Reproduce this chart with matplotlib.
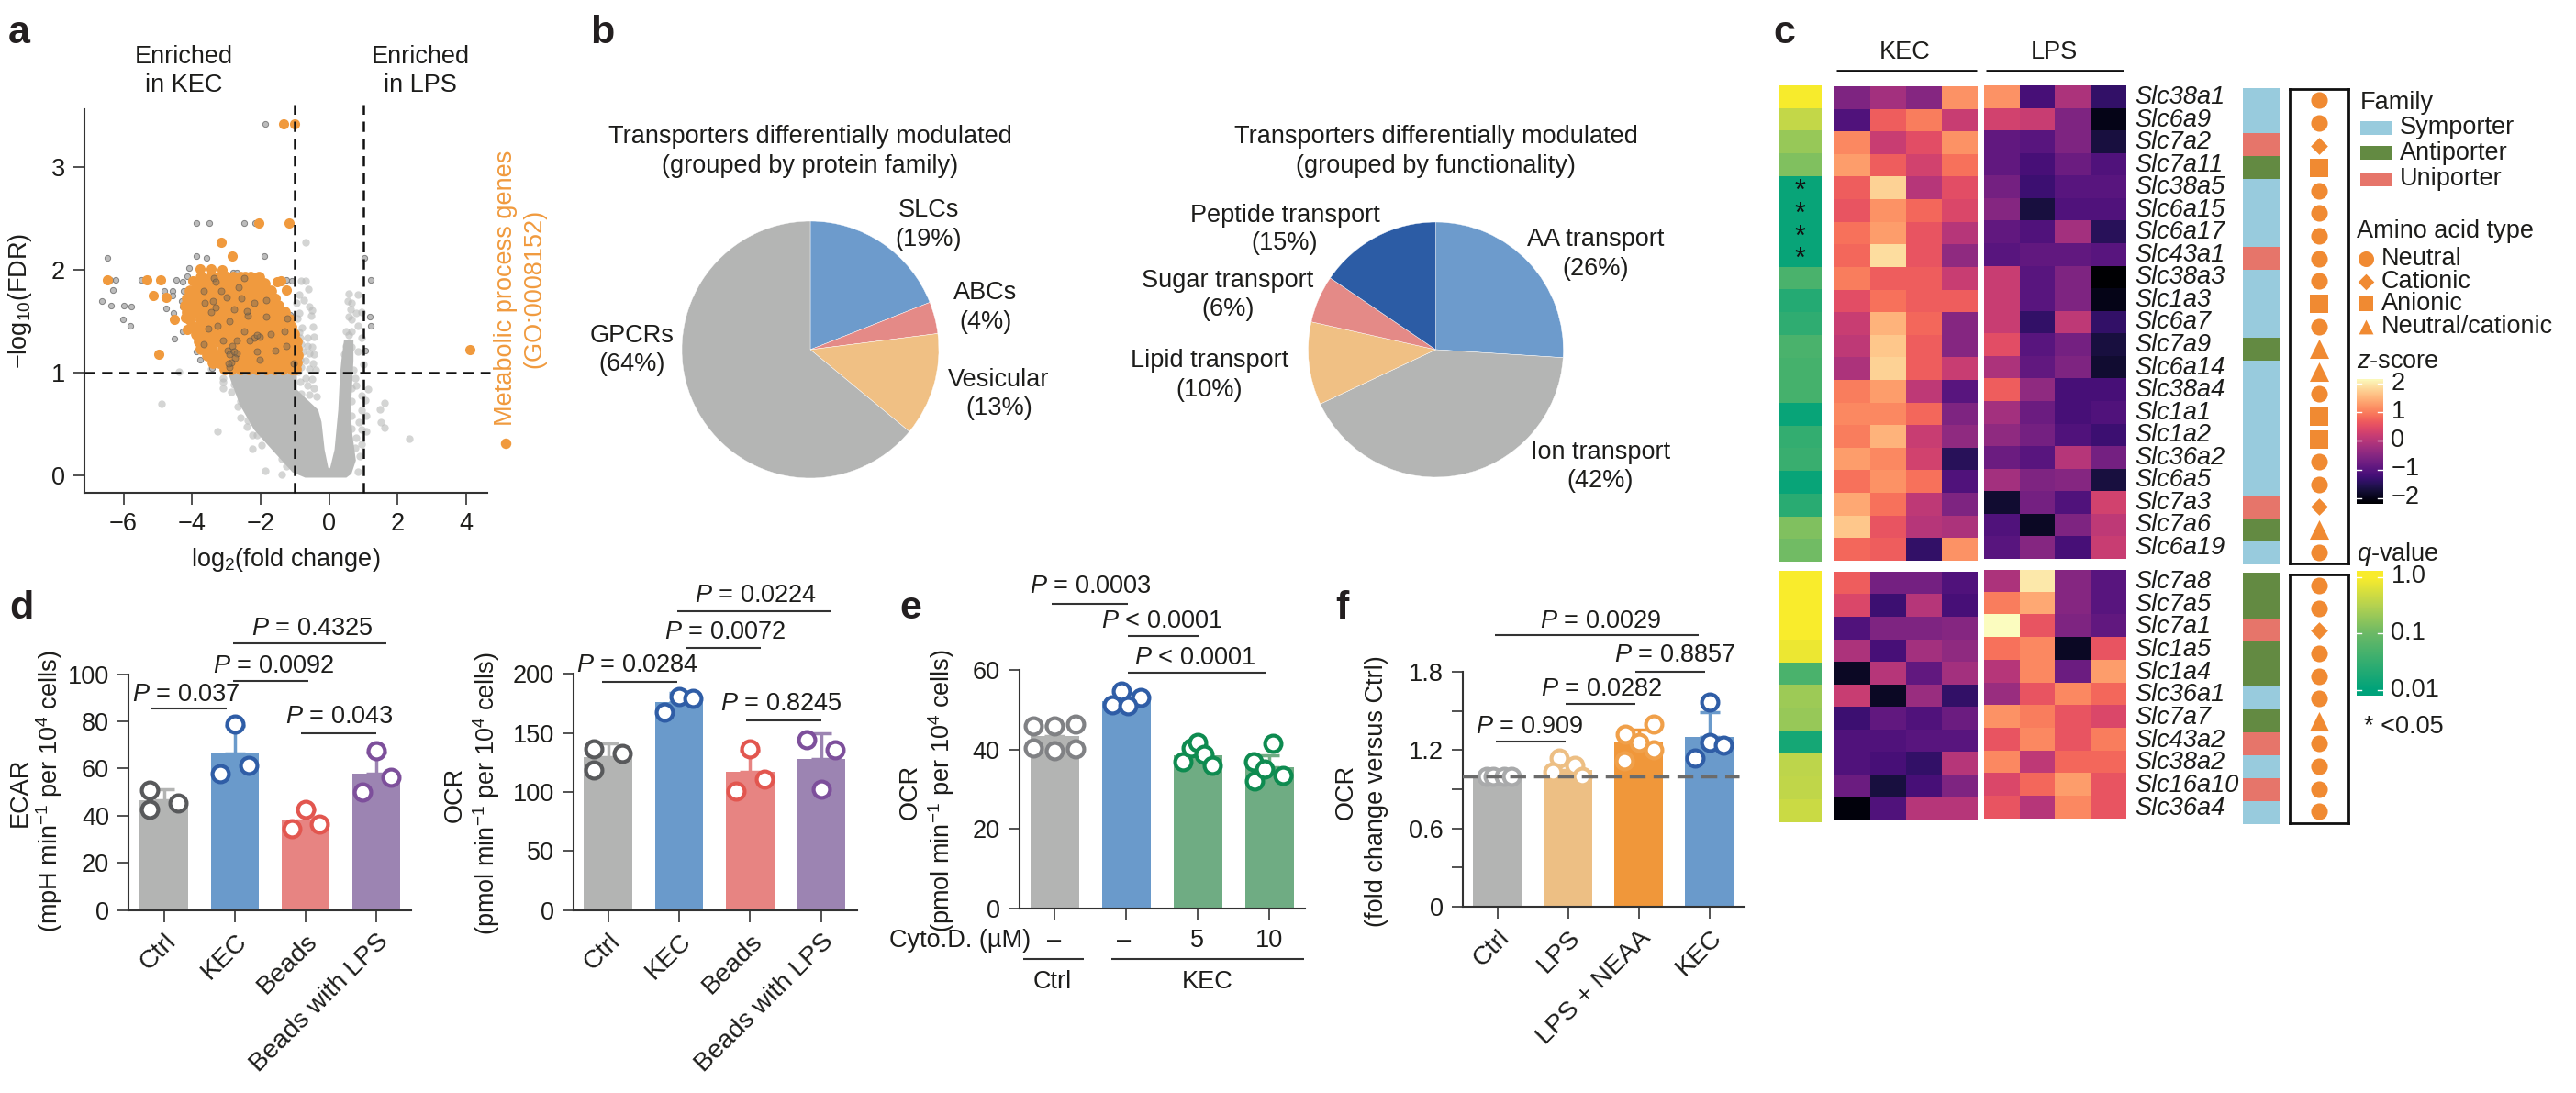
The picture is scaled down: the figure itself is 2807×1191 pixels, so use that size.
import numpy as np
import matplotlib
matplotlib.use('Agg')
import matplotlib.pyplot as plt
from matplotlib.colors import ListedColormap, LinearSegmentedColormap, Normalize, LogNorm
from matplotlib.patches import Rectangle

plt.rcParams['font.family'] = ['Liberation Sans', 'DejaVu Sans']
plt.rcParams['mathtext.fontset'] = 'custom'
plt.rcParams['mathtext.rm'] = 'Liberation Sans'
plt.rcParams['mathtext.it'] = 'Liberation Sans:italic'
plt.rcParams['mathtext.bf'] = 'Liberation Sans:bold'
plt.rcParams['mathtext.default'] = 'regular'

W, H = 2807, 1191
FS = 19.5
INK = '#1d1d1b'

# ---------- panel a : volcano ----------
gray_outline_x = [-0.69, -1.04, -1.53, -2.15, -2.56, -2.87, -1.0, -1.0, -0.69, -0.37, -0.28, -0.19, -0.08, 0.0, 0.08, 0.21, 0.32, 0.37, 0.41, 0.48, 0.65, 0.65, 0.61, 0.57, 0.62, 0.72, 0.6, 0.48]
gray_outline_y = [0.0, 0.05, 0.23, 0.46, 0.70, 0.98, 0.98, 0.83, 0.73, 0.63, 0.52, 0.25, 0.07, 0.04, 0.07, 0.25, 0.64, 0.98, 1.12, 1.3, 1.3, 1.12, 0.88, 0.61, 0.40, 0.15, 0.03, 0.0]
light_x = [-0.7, -0.81, -0.68, -0.62, -0.88, -0.57, -0.75, -0.95, -0.5, -0.88, -0.54, -0.93, -0.48, -0.79, -0.88, -0.84, -0.63, -0.46, -0.81, -0.63, -0.5, -0.77, -0.59, -0.46, -0.86, -0.68, -0.48, -0.81, -0.59, -0.39, -0.9, -0.68, -0.5, -0.86, -0.63, -0.46, -0.81, -0.59, -0.37,
           0.57, 0.84, 0.53, 0.66, 0.62, 0.79, 0.95, 0.57, 0.66, 0.84, 0.5, 0.66, 0.57, 0.93, 0.5, 0.66, 0.44, 0.84, 0.48, 1.0, 0.71, 0.75, 0.79, 0.66, 1.12, 0.95, 1.06, 0.64, 1.6, 1.48, 0.93, 1.09, 0.66, 0.86, 1.51, 1.6, 0.66, 0.93, 1.07, 2.33, 0.79, 0.93, 0.75, 0.88, 0.84,
           -3.27, -1.88, -1.38, -2.24, -1.97, -2.24, -2.11, -2.39, -2.38, -2.58, -2.67, -2.6, -2.87, -3.11, -3.11, -3.09, -2.78, -3.45, -1.39, -1.26, -4.9, -4.38]
light_y = [2.27, 1.90, 1.90, 1.82, 1.76, 1.65, 1.71, 1.68, 1.61, 1.58, 1.56, 1.53, 1.45, 1.44, 1.40, 1.34, 1.34, 1.35, 1.28, 1.26, 1.25, 1.21, 1.19, 1.18, 1.13, 1.12, 1.09, 1.06, 1.04, 1.03, 1.01, 0.95, 0.94, 0.91, 0.88, 0.85, 0.80, 0.79, 0.77,
           1.77, 1.76, 1.70, 1.68, 1.62, 1.58, 1.59, 1.55, 1.52, 1.46, 1.41, 1.41, 1.37, 1.34, 1.26, 1.25, 1.18, 1.21, 1.10, 1.08, 1.03, 0.95, 0.88, 0.85, 0.84, 0.78, 0.74, 0.73, 0.71, 0.65, 0.64, 0.58, 0.58, 0.52, 0.52, 0.47, 0.46, 0.45, 0.43, 0.36, 0.37, 0.31, 0.27, 0.19, 0.04,
           0.43, 0.05, 0.01, 0.26, 0.30, 0.40, 0.40, 0.48, 0.54, 0.57, 0.67, 0.73, 0.82, 0.85, 0.91, 0.95, 0.89, 1.04, 0.16, 0.09, 0.70, 1.01]
edge_x = [-1.87, -3.88, -3.51, -2.48, -2.15, -3.87, -3.58, -1.9, -6.48, 1.02, 1.21, -6.22, -6.38, -6.32, -6.62, -6.37, -5.99, -5.78, -6.02, -5.79, -5.48,
          -4.52, -4.77, -4.58, -4.8, -4.46, -4.28, -4.09, -4.14, -4.24, -4.57, -4.31, -4.27, -4.55, -4.28, -3.87, -3.78, -3.87, 1.19, 1.22, 1.04, -2.81, -2.69, -1.25, -1.08, -3.43, -1.3, -1.22, -1.15]
edge_y = [3.42, 2.46, 2.46, 2.46, 2.46, 2.14, 2.12, 2.14, 2.12, 2.12, 1.91, 1.91, 1.91, 1.81, 1.70, 1.66, 1.66, 1.65, 1.52, 1.46, 1.91,
          1.33, 1.63, 1.80, 1.80, 1.91, 1.89, 2.02, 1.94, 1.80, 1.75, 1.70, 1.65, 1.58, 1.41, 1.21, 1.13, 1.36, 1.55, 1.46, 1.22, 1.98, 1.98, 1.91, 1.90, 1.05, 1.55, 1.53, 1.57]
orange_x = [-1.32, -1.02, -2.05, -1.17, -3.14, -2.82, -3.76, -3.45, -3.13, -6.46, -5.32, -4.91, -5.13, -4.77, -4.52, -4.2, -4.97, 4.11, -1.53, -1.4, -1.24, -1.57, -4.14, -3.97, -1.44, -1.57]
orange_y = [3.42, 3.42, 2.46, 2.46, 2.27, 2.14, 2.01, 2.01, 2.0, 1.91, 1.91, 1.91, 1.75, 1.74, 1.52, 1.54, 1.18, 1.23, 1.89, 1.9, 1.81, 1.73, 1.42, 1.9, 1.58, 1.56]
orange_rows = [
    (1.93, [-3.75, -3.45, -3.2, -3.0, -2.8, -2.6, -2.45, -2.3, -2.05]),
    (1.87, [-3.85, -3.7, -3.55, -3.3, -3.05, -2.85, -2.6, -2.4, -2.2, -2.0, -1.9]),
    (1.80, [-4.05, -3.8, -3.6, -3.35, -3.1, -2.9, -2.65, -2.45, -2.25, -2.05, -1.85, -1.7]),
    (1.73, [-4.15, -3.85, -3.65, -3.4, -3.15, -2.95, -2.7, -2.5, -2.25, -2.0, -1.8, -1.68]),
    (1.66, [-4.2, -3.95, -3.7, -3.45, -3.2, -2.95, -2.7, -2.45, -2.2, -2.0, -1.75, -1.5]),
    (1.59, [-4.15, -3.9, -3.6, -3.3, -3.05, -2.8, -2.6, -2.35, -2.15, -1.9, -1.7, -1.5, -1.3]),
    (1.52, [-4.05, -3.75, -3.45, -3.2, -3.0, -2.75, -2.5, -2.25, -2.0, -1.8, -1.55, -1.3, -1.18]),
    (1.45, [-3.98, -3.7, -3.4, -3.15, -2.9, -2.65, -2.4, -2.2, -1.95, -1.7, -1.45, -1.25, -1.13]),
    (1.38, [-3.88, -3.6, -3.3, -3.1, -2.85, -2.6, -2.35, -2.1, -1.85, -1.6, -1.4, -1.15, -1.05]),
    (1.31, [-3.8, -3.5, -3.2, -2.95, -2.7, -2.45, -2.2, -1.95, -1.7, -1.5, -1.25, -1.05, -0.97]),
    (1.24, [-3.75, -3.45, -3.1, -2.85, -2.6, -2.35, -2.1, -1.85, -1.6, -1.35, -1.15, -0.95]),
    (1.17, [-3.55, -3.25, -3.0, -2.75, -2.5, -2.25, -2.0, -1.75, -1.5, -1.3, -1.1, -0.92]),
    (1.10, [-3.4, -3.2, -2.95, -2.7, -2.45, -2.2, -1.95, -1.7, -1.45, -1.2, -0.95]),
    (1.04, [-3.05, -2.85, -2.6, -2.35, -2.1, -1.85, -1.6, -1.35, -1.1, -0.98]),
]
dark_x = [-3.36, -3.3, -2.47, -3.63, -3.32, -2.78, -2.2, -2.96, -2.9, -2.83, -2.78, -2.69, -2.75, -2.2, -2.02, -2.1, -2.33, -1.57, -2.91, -2.87, -2.95, -1.22, -3.54, -2.69,
          -3.14, -3.0, -2.55, -1.84, -3.67, -3.45, -2.47, -3.67, -2.11, -2.02, -1.31, -1.26, -1.04, -2.38, -1.84, -3.09, -3.27, -2.65, -3.4, -2.4, -2.9, -1.7]
dark_y = [1.92, 1.89, 1.92, 1.68, 1.64, 1.62, 1.68, 1.22, 1.18, 1.26, 1.21, 1.19, 1.15, 1.34, 1.35, 1.37, 1.32, 1.22, 1.06, 1.10, 1.09, 1.53, 1.43, 1.32,
          1.80, 1.74, 1.73, 1.71, 1.80, 1.59, 1.41, 1.28, 1.21, 1.13, 1.41, 1.26, 1.09, 1.56, 1.55, 1.32, 1.46, 1.83, 1.70, 1.6, 1.5, 1.38]
fold_lines = [-1, 1]
fdr_line = 1

# ---------- panel b : pies ----------
family_labels = ['SLCs\n(19%)', 'ABCs\n(4%)', 'Vesicular\n(13%)', 'GPCRs\n(64%)']
family_values = [19, 4, 13, 64]
family_colors = ['#6D9BCC', '#E48A87', '#F0C084', '#B4B5B4']
function_labels = ['AA transport\n(26%)', 'Ion transport\n(42%)', 'Lipid transport\n(10%)', 'Sugar transport\n(6%)', 'Peptide transport\n(15%)']
function_values = [26, 42, 10.5, 6, 15.5]
function_colors = ['#6D9BCC', '#B4B5B4', '#F0C084', '#E48A87', '#2C5CA5']

# ---------- panel c : heatmaps ----------
genes_top = ['Slc38a1', 'Slc6a9', 'Slc7a2', 'Slc7a11', 'Slc38a5', 'Slc6a15', 'Slc6a17', 'Slc43a1', 'Slc38a3', 'Slc1a3', 'Slc6a7', 'Slc7a9', 'Slc6a14', 'Slc38a4', 'Slc1a1', 'Slc1a2', 'Slc36a2', 'Slc6a5', 'Slc7a3', 'Slc7a6', 'Slc6a19']
kec_top = [[-0.6, -0.2, -0.5, 1.2], [-1.1, 0.7, 1.0, 0.2], [1.1, 0.2, 0.5, 1.2], [1.3, 0.7, 0.3, 0.9], [0.7, 1.8, 0.0, 0.5], [0.6, 1.2, 0.8, 0.4], [0.9, 1.3, 0.6, 0.0],
           [0.8, 1.9, 0.6, -0.4], [1.0, 0.7, 0.7, 0.2], [0.5, 0.9, 0.7, 0.7], [0.2, 1.5, 0.8, -0.5], [0.1, 1.7, 0.7, -0.5], [-0.1, 1.8, 0.7, 0.2], [1.0, 1.3, 0.1, -1.0],
           [1.1, 1.1, 0.8, -0.6], [1.0, 1.5, 0.2, -0.4], [1.3, 1.1, 0.3, -1.5], [0.9, 1.2, 0.9, -1.1], [1.4, 0.9, 0.1, -0.6], [1.7, 0.6, 0.0, -0.1], [0.8, 0.7, -1.4, 1.2]]
lps_top = [[1.2, -1.2, -0.1, -1.4], [0.3, 0.2, -0.6, -2.0], [-0.9, -1.0, -0.6, -1.7], [-0.9, -1.2, -0.8, -1.1], [-0.7, -1.3, -1.0, -1.0], [-0.5, -1.7, -1.1, -1.1], [-0.9, -1.1, -0.2, -1.5],
           [-1.0, -0.9, -0.9, -1.0], [0.2, -1.0, -0.6, -2.2], [0.2, -1.0, -0.6, -2.0], [0.2, -1.4, 0.1, -1.4], [0.5, -1.0, -0.7, -1.7], [-0.1, -0.9, -0.6, -1.8], [0.7, -0.4, -1.2, -1.2],
           [-0.2, -0.8, -1.2, -1.1], [-0.4, -0.7, -1.1, -1.3], [-0.8, -1.0, 0.0, -0.7], [-0.2, -0.6, -0.5, -1.7], [-1.8, -0.7, -1.1, 0.3], [-1.1, -1.9, -0.6, 0.1], [-1.0, -0.5, -1.2, 0.2]]
qval_top = [0.97, 0.4, 0.2, 0.14, 0.012, 0.012, 0.012, 0.012, 0.05, 0.022, 0.028, 0.05, 0.045, 0.045, 0.012, 0.03, 0.035, 0.012, 0.025, 0.14, 0.11]
family_top = ['S', 'S', 'U', 'A', 'S', 'S', 'S', 'U', 'S', 'S', 'S', 'A', 'S', 'S', 'S', 'S', 'S', 'S', 'U', 'A', 'S']
amino_top = ['o', 'o', 'D', 's', 'o', 'o', 'o', 'o', 'o', 's', 'o', '^', '^', 'o', 's', 's', 'o', 'o', 'D', '^', 'o']
genes_bot = ['Slc7a8', 'Slc7a5', 'Slc7a1', 'Slc1a5', 'Slc1a4', 'Slc36a1', 'Slc7a7', 'Slc43a2', 'Slc38a2', 'Slc16a10', 'Slc36a4']
kec_bot = [[0.7, -0.7, -0.7, -1.1], [0.4, -1.3, 0.0, -1.2], [-1.1, -0.6, -0.6, -0.5], [-0.1, -1.2, -0.2, -0.4], [-1.9, 0.0, -0.9, -0.2], [0.2, -1.9, -0.3, -1.4],
           [-1.3, -0.9, -1.1, -0.8], [-1.1, -1.1, -1.0, -1.0], [-1.1, -1.2, -1.4, 0.0], [-0.8, -1.7, -1.2, -0.6], [-2.1, -1.1, 0.0, 0.0]]
lps_bot = [[-0.1, 2.0, -0.5, -1.0], [1.0, 1.4, -0.5, -1.0], [2.3, 0.6, -0.6, -0.9], [0.9, 1.1, -1.9, 0.6], [0.0, 1.1, -0.8, 1.3], [-0.3, 0.6, 1.1, 0.8],
           [1.2, 1.0, 0.6, 0.4], [0.6, 1.1, 0.6, 1.0], [1.1, 0.1, 0.8, 0.8], [0.4, 0.8, 1.3, 0.6], [0.6, 0.0, 1.1, 0.6]]
qval_bot = [1.0, 1.0, 1.0, 0.8, 0.05, 0.22, 0.2, 0.016, 0.36, 0.38, 0.45]
family_bot = ['A', 'A', 'U', 'A', 'A', 'S', 'A', 'U', 'S', 'U', 'S']
amino_bot = ['o', 'o', 'D', 'o', 'o', 'o', '^', 'o', 'o', 'o', 'o']
family_names = ['Symporter', 'Antiporter', 'Uniporter']
family_code = {'S': 0, 'A': 1, 'U': 2}
family_swatch = ['#98CBDD', '#638A42', '#E6756A']
amino_names = ['Neutral', 'Cationic', 'Anionic', 'Neutral/cationic']
amino_markers = ['o', 'D', 's', '^']
z_ticks = [2, 1, 0, -1, -2]
q_ticks = [1.0, 0.1, 0.01]
q_tick_labels = ['1.0', '0.1', '0.01']

# ---------- panel d ----------
cats_d = ['Ctrl', 'KEC', 'Beads', 'Beads with LPS']
colors_d = ['#B3B4B3', '#6A9ACB', '#E78482', '#9C84B2']
edges_d = ['#58595B', '#2F5DA6', '#E2564F', '#7D4F9B']
ecar_means = [46.5, 66.4, 38, 58]
ecar_tops = [51.3, 78, 42.5, 66.7]
ecar_x = [[-0.2, -0.2, 0.2], [0, -0.2, 0.2], [0, -0.2, 0.2], [0, -0.2, 0.2]]
ecar_y = [[51, 42.8, 45.4], [79, 58, 61.5], [42.8, 34.6, 36.3], [67.7, 50.2, 56.3]]
ocrd_means = [129.7, 176.5, 116.7, 128]
ocrd_tops = [140.8, 184, 135, 150]
ocrd_x = [[-0.2, -0.2, 0.2], [0, -0.2, 0.2], [0, -0.2, 0.2], [-0.2, 0, 0.2]]
ocrd_y = [[136.8, 118.4, 132.6], [181, 167.7, 179.3], [136.8, 100.6, 111], [144, 102, 135.7]]

# ---------- panel e ----------
colors_e = ['#B3B4B3', '#6A9ACB', '#6FAC83', '#6FAC83']
edges_e = ['#808184', '#2F5DA6', '#0E8B50', '#0E8B50']
ocre_means = [43.3, 52.2, 38.6, 35.5]
ocre_tops = [46, 54, 41, 38.5]
ocre_x = [[-0.3, 0, 0.3, -0.3, 0, 0.3], [-0.19, -0.07, 0.2, 0.03], [-0.21, -0.09, 0, 0.09, 0.21], [0.05, -0.22, -0.2, -0.06, 0.19]]
ocre_y = [[46, 46, 46.3, 40.4, 39.6, 40.2], [51.2, 54.7, 53, 51], [36.8, 40.4, 41.7, 38.7, 36], [41.5, 36.8, 32, 35, 33.4]]
cyto_labels = ['–', '–', '5', '10']

# ---------- panel f ----------
cats_f = ['Ctrl', 'LPS', 'LPS + NEAA', 'KEC']
colors_f = ['#B3B4B3', '#EDBF84', '#F0973A', '#6A9ACB']
edges_f = ['#A9AAAB', '#EDBF84', '#F0A04A', '#2F5DA6']
ocrf_means = [1.01, 1.05, 1.26, 1.30]
ocrf_tops = [1.01, 1.13, 1.36, 1.487]
ocrf_x = [[-0.15, -0.06, 0.1, 0.2], [-0.12, -0.22, 0.1, 0.2], [-0.19, 0.21, -0.2, 0, 0.21], [0, 0, -0.2, 0.2]]
ocrf_y = [[1.0, 1.0, 1.0, 1.0], [1.136, 1.03, 1.08, 1.0], [1.32, 1.40, 1.115, 1.256, 1.2], [1.57, 1.26, 1.14, 1.24]]
ref_level = 1.0

# ---------- figure ----------
fig = plt.figure(figsize=(W / 100, H / 100), dpi=100, facecolor='white')


def axpx(l, t, r, b, **kw):
    return fig.add_axes([l / W, 1 - b / H, (r - l) / W, (b - t) / H], **kw)


ov = fig.add_axes([0, 0, 1, 1], zorder=20)
ov.set_xlim(0, W)
ov.set_ylim(H, 0)
ov.axis('off')
ov.patch.set_alpha(0)


def T(x, y, s, ha='center', va='center', fs=FS, **kw):
    kw.setdefault('color', INK)
    ov.text(x, y, s, ha=ha, va=va, fontsize=fs, **kw)


def L(x0, x1, y, lw=1.5, color='#333333'):
    ov.plot([x0, x1], [y, y], color=color, lw=lw, solid_capstyle='butt')


def style(ax):
    for s in ('top', 'right'):
        ax.spines[s].set_visible(False)
    for s in ('left', 'bottom'):
        ax.spines[s].set_linewidth(1.5)
        ax.spines[s].set_color('#333333')
    ax.tick_params(length=9, width=1.2, labelsize=FS, color='#333333', labelcolor=INK, pad=6)
    ax.patch.set_alpha(0)


# panel letters
for x, y, s in [(9, 47, 'a'), (643, 47, 'b'), (1932, 47, 'c'), (10, 674, 'd'), (980, 674, 'e'), (1455, 674, 'f')]:
    ov.text(x, y, s, fontsize=31, fontweight='bold', ha='left', va='baseline', color='#231f20')

# ---- a ----
ax = axpx(92, 118.6, 531, 537)
style(ax)
ax.set_xlim(-7.14, 4.61)
ax.set_ylim(-0.166, 3.57)
ax.set_xticks([-6, -4, -2, 0, 2, 4])
ax.set_yticks([0, 1, 2, 3])
ax.fill(gray_outline_x, gray_outline_y, color='#B8B9B8', lw=3, zorder=1)
ax.scatter(light_x, light_y, s=36, color='#B8B9B8', alpha=0.6, lw=0, zorder=1)
ax.scatter(edge_x, edge_y, s=20, facecolor='#B5B5B5', edgecolor='#777777', lw=0.7, alpha=0.9, zorder=2)
ox = [x for y, xs in orange_rows for x in xs]
oy = [y for y, xs in orange_rows for x in xs]
ax.scatter(orange_x, orange_y, s=64, color='#F09A3E', lw=0, zorder=3)
ax.scatter(ox, oy, s=84, color='#F09A3E', lw=0, zorder=3)
ax.scatter(dark_x, dark_y, s=26, facecolor='#8A7050', edgecolor='#504A44', lw=0.6, alpha=0.55, zorder=4)
for v in fold_lines:
    ax.axvline(v, color='#111111', lw=1.8, dashes=(4.5, 3), ymax=1.01, clip_on=False, zorder=6)
ax.axhline(fdr_line, color='#111111', lw=1.8, dashes=(4.5, 3), xmax=1.007, clip_on=False, zorder=6)
T(200, 62, 'Enriched')
T(200, 93, 'in KEC')
T(458, 62, 'Enriched')
T(458, 93, 'in LPS')
T(311, 610, 'log$_{2}$(fold change)')
T(22, 328, '−log$_{10}$(FDR)', rotation=90)
T(551, 314, 'Metabolic process genes', rotation=90, color='#F09A3E')
T(582, 314, '(GO:0008152)', rotation=90, color='#F09A3E')
ov.scatter([551], [483], s=68, color='#F09A3E', lw=0)

# ---- b ----
for (cx, cy, r, vals, cols) in [(883, 381, 140, family_values, family_colors), (1564.5, 381, 139, function_values, function_colors)]:
    ap = axpx(cx - r - 2, cy - r - 2, cx + r + 2, cy + r + 2)
    ap.pie(vals, colors=cols, startangle=90, counterclock=False, radius=r / (r + 2),
           wedgeprops=dict(lw=0.3, edgecolor='white'))
    ap.set_xlim(-1, 1)
    ap.set_ylim(-1, 1)
    ap.set_aspect('equal')
for cx, tail in [(883, '(grouped by protein family)'), (1564.5, '(grouped by functionality)')]:
    T(cx, 148.5, 'Transporters differentially modulated')
    T(cx, 180.6, tail)
for (x, y), s in zip([(1012, 245), (1073.6, 335), (1088.5, 429.5), (689, 381.5)], family_labels):
    T(x, y, s, linespacing=1.25)
for (x, y), s in zip([(1739, 277), (1743.6, 508.5), (1318, 409), (1338, 321.5), (1400, 250)], function_labels):
    T(x, y, s, linespacing=1.25)

# ---- c ----
mag = plt.get_cmap('magma')
znorm = Normalize(-2.2, 2.2)
qcmap = LinearSegmentedColormap.from_list('q', [(0, '#00A37A'), (0.5, '#6BB966'), (0.75, '#B5D250'), (1, '#F9EC2C')], N=256)
qnorm = LogNorm(0.01, 1.0)
fcmap = ListedColormap(family_swatch)


def heat(rect, data, cmap, norm):
    a = axpx(*rect)
    a.imshow(np.atleast_2d(data), aspect='auto', cmap=cmap, norm=norm, interpolation='nearest')
    a.axis('off')
    return a


blocks = [
    (kec_top, lps_top, qval_top, family_top, amino_top, genes_top, (93, 612), (94, 611), (93, 609), (96, 615), (97, 614), (106, 597)),
    (kec_bot, lps_bot, qval_bot, family_bot, amino_bot, genes_bot, (622, 896), (623, 893), (621, 892), (624, 898), (625.7, 896.7), (634, 880.7)),
]
for kec, lps, q, fam, am, genes, yq, yk, yl, yf, yb, ylab in blocks:
    n = len(genes)
    heat((1939, yq[0], 1985, yq[1]), np.array(q)[:, None], qcmap, qnorm)
    heat((1999, yk[0], 2154, yk[1]), kec, mag, znorm)
    heat((2162, yl[0], 2317, yl[1]), lps, mag, znorm)
    heat((2444, yf[0], 2484, yf[1]), np.array([family_code[c] for c in fam])[:, None], fcmap, Normalize(0, 2))
    ab = axpx(2495, yb[0], 2558.6, yb[1])
    ab.set_xlim(-1, 1)
    ab.set_ylim(n - 0.5, -0.5)
    ab.set_xticks([])
    ab.set_yticks([])
    for s in ab.spines.values():
        s.set_linewidth(2)
        s.set_color('#111111')
    sizes = {'o': 170, 'D': 90, 's': 190, '^': 230}
    for i, m in enumerate(am):
        ab.scatter([0], [i], marker=m, s=sizes[m], color='#F08A32', lw=0)
    for i, g in enumerate(genes):
        T(2326, ylab[0] + (ylab[1] - ylab[0]) * i / (n - 1), g, ha='left', style='italic')
for row in [4, 5, 6, 7]:
    yy = 93 + (612 - 93) * (row + 0.5) / 21 + 5
    T(1962, yy, '*', fs=22, color='#111111')
T(2076, 57, 'KEC')
T(2238, 57, 'LPS')
L(2001, 2153.6, 77, lw=2, color='#111111')
L(2164, 2314, 77, lw=2, color='#111111')
T(2571.6, 112, 'Family', ha='left')
for (y0, y1, yt), name, c in zip([(131.7, 147, 139), (159, 174, 167), (188, 203, 195)], family_names, family_swatch):
    ov.add_patch(Rectangle((2572, y0), 33.5, y1 - y0, color=c, lw=0))
    T(2614.5, yt, name, ha='left')
T(2568, 252, 'Amino acid type', ha='left')
for yt, name, m, sz in zip([282, 307, 331, 356], amino_names, amino_markers, [150, 80, 130, 130]):
    ov.scatter([2578], [yt], marker=m, s=sz, color='#F08A32', lw=0)
    T(2595, yt, name, ha='left')
T(2568, 394, '$\\mathit{z}$-score', ha='left')
cz = axpx(2567.6, 413, 2596.5, 549)
cz.imshow(np.linspace(2.16, -2.2, 200)[:, None], aspect='auto', cmap=mag, norm=znorm, extent=(0, 1, -2.2, 2.16))
cz.axis('off')
for v in z_ticks:
    cz.plot([0, 0.2], [v, v], color='white', lw=1)
    cz.plot([0.8, 1], [v, v], color='white', lw=1)
    T(2605.5, 480 - v * 31.1, str(v).replace('-', '−'), ha='left')
T(2568, 604, '$\\mathit{q}$-value', ha='left')
cq = axpx(2567.6, 622, 2596.5, 758)
lg = np.linspace(0.11, -2.1, 200)
cq.imshow((10 ** lg)[:, None], aspect='auto', cmap=qcmap, norm=qnorm, extent=(0, 1, -2.1, 0.11))
cq.set_ylim(-2.1, 0.11)
cq.axis('off')
for v, s in zip(q_ticks, q_tick_labels):
    cq.plot([0, 0.2], [np.log10(v)] * 2, color='white', lw=1)
    cq.plot([0.8, 1], [np.log10(v)] * 2, color='white', lw=1)
    T(2605.5, 690 - np.log10(v / 0.1) * 61.6, s, ha='left')
T(2576, 792, '* <0.05', ha='left')


# ---- bars ----
def bars(rect, c0, step, width, ylim, yticks, ylabels, means, tops, px, py, cols, eds, cats=None, minor=None):
    l, t, r, b = rect
    a = axpx(l, t, r, b)
    style(a)
    a.set_xlim((l - c0) / step, (r - c0) / step)
    a.set_ylim(*ylim)
    xs = np.arange(len(means))
    a.bar(xs, means, width=width / step, color=cols, lw=0, zorder=1)
    for i in xs:
        a.errorbar([i], [means[i]], yerr=[[0], [tops[i] - means[i]]], color=cols[i], lw=2.5, capsize=8, capthick=2.5, zorder=2, clip_on=False)
        a.scatter(np.array(px[i]) + i, py[i], s=165, facecolor='white', edgecolor=eds[i], lw=3, zorder=3, clip_on=False)
    a.set_yticks(yticks)
    a.set_yticklabels(ylabels)
    if minor:
        a.set_yticks(minor, minor=True)
        a.tick_params(axis='y', which='minor', length=9, width=1.2, color='#333333')
    a.set_xticks(xs)
    if cats:
        a.set_xticklabels(cats, rotation=45, ha='right', rotation_mode='anchor', va='top', fontsize=20.5)
    else:
        a.set_xticklabels([])
    return a


bars((140, 734.7, 448, 991.5), 178.8, 77.1, 52.7, (0, 100), [0, 20, 40, 60, 80, 100], ['0', '20', '40', '60', '80', '100'],
     ecar_means, ecar_tops, ecar_x, ecar_y, colors_d, edges_d, cats_d)
bars((624.6, 734.3, 934, 991.5), 662.6, 77.3, 52.7, (0, 200), [0, 50, 100, 150, 200], ['0', '50', '100', '150', '200'],
     ocrd_means, ocrd_tops, ocrd_x, ocrd_y, colors_d, edges_d, cats_d)
bars((1110.6, 730, 1422, 989.6), 1149, 78, 53, (0, 60), [0, 20, 40, 60], ['0', '20', '40', '60'],
     ocre_means, ocre_tops, ocre_x, ocre_y, colors_e, edges_e)
af = bars((1593.8, 732, 1901, 987.8), 1631.8, 76.9, 53, (0, 1.8), [0, 0.6, 1.2, 1.8], ['0', '0.6', '1.2', '1.8'],
          ocrf_means, ocrf_tops, ocrf_x, ocrf_y, colors_f, edges_f, cats_f, minor=[0.3, 0.9, 1.5])
af.plot([-0.5, 3.42], [ref_level, ref_level], color='#6b6b6b', lw=2.5, dashes=(5, 2.5), zorder=5)

# y labels
T(21.4, 863, 'ECAR', rotation=90)
T(54, 862, '(mpH min$^{−1}$ per 10$^{4}$ cells)', rotation=90)
T(496, 866, 'OCR', rotation=90)
T(530, 865, '(pmol min$^{−1}$ per 10$^{4}$ cells)', rotation=90)
T(992, 863, 'OCR', rotation=90)
T(1026, 862, '(pmol min$^{−1}$ per 10$^{4}$ cells)', rotation=90)
T(1467, 863, 'OCR', rotation=90)
T(1500, 862.5, '(fold change versus Ctrl)', rotation=90)

# significance annotations
P = '$\\mathit{P}$'
for tx, ty, s, x0, x1, ly in [
    (203, 757, ' = 0.037', 164, 247, 771.5), (298, 726, ' = 0.0092', 253.5, 335.6, 741.6), (340.5, 685, ' = 0.4325', 253.5, 420.7, 701), (370, 781, ' = 0.043', 327.6, 410, 799),
    (695, 725, ' = 0.0284', 656, 738, 742.7), (790, 689, ' = 0.0072', 746.5, 829, 706), (824, 649, ' = 0.0224', 738, 906, 666), (851, 767, ' = 0.8245', 812.6, 895, 785),
    (1188, 639, ' = 0.0003', 1146, 1229.4, 657.5), (1266, 677, ' < 0.0001', 1229.4, 1306, 693), (1302, 717, ' < 0.0001', 1229, 1379, 733),
    (1667, 792, ' = 0.909', 1630, 1706, 808), (1745.6, 751, ' = 0.0282', 1706, 1782, 767), (1825, 714, ' = 0.8857', 1782, 1858, 732), (1744, 677, ' = 0.0029', 1629, 1851, 692),
]:
    T(tx, ty, P + s)
    L(x0, x1, ly)

# panel e table
T(969, 1025, 'Cyto.D. (µM)', ha='left')
for x, s in zip([1149, 1225, 1304, 1383], cyto_labels):
    T(x, 1025, s)
L(1115, 1180.5, 1045)
L(1211, 1420.5, 1045)
T(1147, 1070, 'Ctrl')
T(1316, 1070, 'KEC')

fig.savefig('out.png', dpi=100)
